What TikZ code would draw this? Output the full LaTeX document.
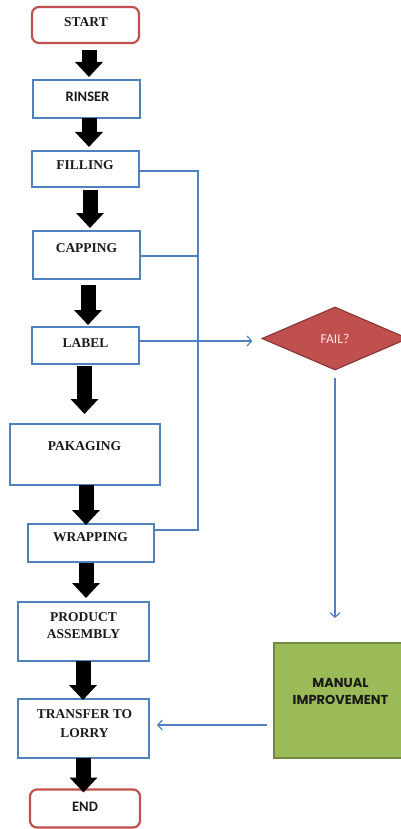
\documentclass[tikz,border=0pt]{standalone}
\usepackage{fontspec}
\setmainfont{Liberation Serif}
\newfontfamily\carl{Carlito}
\newfontfamily\popp{Poppins}
\usetikzlibrary{arrows.meta,shapes.geometric}
\definecolor{oblue}{HTML}{4F81BD}
\definecolor{ored}{HTML}{C0504D}
\definecolor{odred}{HTML}{8C3836}
\definecolor{ogreen}{HTML}{9BBB59}
\definecolor{odgreen}{HTML}{71893F}
\definecolor{failtxt}{HTML}{F8E6E5}
\definecolor{txtc}{HTML}{1A1A1A}
\begin{document}
\begin{tikzpicture}[x=1pt,y=-1pt,
  bbox/.style={draw=oblue, line width=2.2pt, rectangle, outer sep=0pt, inner sep=0pt},
  rbox/.style={draw=ored, line width=2.2pt, rectangle, rounded corners=7pt, outer sep=0pt, inner sep=0pt},
  stxt/.style={font=\fontsize{13.5}{17}\selectfont\bfseries, text=txtc, inner sep=0pt, align=center},
  ctxt/.style={font=\fontsize{14.5}{17}\selectfont\carl\bfseries, text=txtc, inner sep=0pt, align=center},
  blk/.style={line width=15pt, -{Triangle[width=27pt,length=15pt]}},
  bline/.style={draw=oblue, line width=1.2pt},
  barb/.style={-{Straight Barb[length=4.5pt,width=10pt]}},
]
\useasboundingbox (0,0) rectangle (401,829);
\clip (0,0) rectangle (401,829);

% boxes
\node[rbox, minimum width=107pt, minimum height=36pt] (start) at (85.5,25) {};
\node[bbox, minimum width=107pt, minimum height=38pt] (rinser) at (86.5,99) {};
\node[bbox, minimum width=107pt, minimum height=36pt] (filling) at (85.5,169) {};
\node[bbox, minimum width=107pt, minimum height=48pt] (capping) at (86.5,255) {};
\node[bbox, minimum width=107pt, minimum height=37pt] (label) at (85.5,345.5) {};
\node[bbox, minimum width=150pt, minimum height=61pt] (pakaging) at (85,454.5) {};
\node[bbox, minimum width=126pt, minimum height=38pt] (wrapping) at (91,543) {};
\node[bbox, minimum width=131pt, minimum height=59pt] (product) at (83.5,631.5) {};
\node[bbox, minimum width=131pt, minimum height=59pt] (transfer) at (83.5,728.5) {};
\node[rbox, minimum width=110pt, minimum height=38pt] (end) at (85,808.5) {};

% texts
\node[stxt] (tstart) at (86,22) {START};
\node[ctxt] (trinser) at (87.5,97) {RINSER};
\node[stxt] (tfilling) at (85,165) {FILLING};
\node[stxt] (tcapping) at (86.5,248) {CAPPING};
\node[stxt] (tlabel) at (85.5,343) {LABEL};
\node[stxt] (tpakaging) at (84.5,446) {PAKAGING};
\node[stxt] (twrapping) at (90.5,537.5) {WRAPPING};
\node[stxt] (tproduct) at (83.5,626) {PRODUCT\\ASSEMBLY};
\node[stxt, font=\fontsize{13.5}{18.5}\selectfont\bfseries] (ttransfer) at (84.5,723.5) {TRANSFER TO\\LORRY};
\node[ctxt] (tend) at (85,806.5) {END};

% decision and manual box
\node[diamond, draw=odred, fill=ored, line width=1.2pt, minimum width=146pt, minimum height=63pt, inner sep=0pt,
      font=\fontsize{13.5}{15}\selectfont\carl, text=failtxt] (fail) at (335,338.5) {FAIL?};
\node[rectangle, draw=odgreen, fill=ogreen, line width=2.2pt, minimum width=134pt, minimum height=115pt, outer sep=0pt] (manual) at (341,700.5) {};
\node[font=\fontsize{13}{17}\selectfont\popp\bfseries, text=txtc, inner sep=0pt, align=center] (tmanual) at (340.5,691) {MANUAL\\IMPROVEMENT};

% blue bracket lines
\coordinate (j1) at (198,171);
\coordinate (c1) at ([yshift=-2pt]filling.east);
\coordinate (c2) at ([yshift=-1pt]capping.east);
\coordinate (c3) at ([yshift=4.5pt]label.east);
\coordinate (c4) at ([yshift=13pt]wrapping.east);
\draw[bline] (c1) -- (c1 -| j1) -- (c4 -| j1) -- (c4);
\draw[bline] (c2) -- (c2 -| j1);
\draw[bline, barb, shorten >=9pt] (c3) -- (c3 -| fail.west);
\draw[bline, barb, shorten <=7pt, shorten >=25pt] (fail.south) -- (fail.south |- manual.north);
\coordinate (m1) at ([yshift=-24.5pt]manual.west);
\draw[bline, barb, shorten <=7pt, shorten >=8pt] (m1) -- (m1 -| transfer.east);

% black block arrows
\coordinate (a1) at ([xshift=3.5pt,yshift=-7pt]start.south);
\draw[blk, shorten >=3pt] (a1) -- (a1 |- rinser.north);
\coordinate (a2) at ([xshift=2.5pt,yshift=-0.5pt]rinser.south);
\draw[blk, shorten >=4pt] (a2) -- (a2 |- filling.north);
\coordinate (a3) at ([xshift=4.5pt,yshift=-3pt]filling.south);
\draw[blk, shorten >=3pt] (a3) -- (a3 |- capping.north);
\coordinate (a4) at ([xshift=1.5pt,yshift=-6pt]capping.south);
\draw[blk, shorten >=2pt] (a4) -- (a4 |- label.north);
\coordinate (a5) at ([xshift=-1pt,yshift=-2pt]label.south);
\draw[blk, shorten >=10pt] (a5) -- (a5 |- pakaging.north);
\coordinate (a6) at ([xshift=1pt]pakaging.south);
\draw[blk, shorten >=-1pt] (a6) -- (a6 |- wrapping.north);
\coordinate (a7) at ([xshift=-5pt,yshift=-1pt]wrapping.south);
\draw[blk, shorten >=4pt] (a7) -- (a7 |- product.north);
\coordinate (a8) at ([xshift=-0.5pt]product.south);
\draw[blk, shorten >=-1pt] (a8) -- (a8 |- transfer.north);
\coordinate (a9) at (transfer.south);
\draw[blk, shorten >=-3pt] (a9) -- (a9 |- end.north);
\end{tikzpicture}
\end{document}
